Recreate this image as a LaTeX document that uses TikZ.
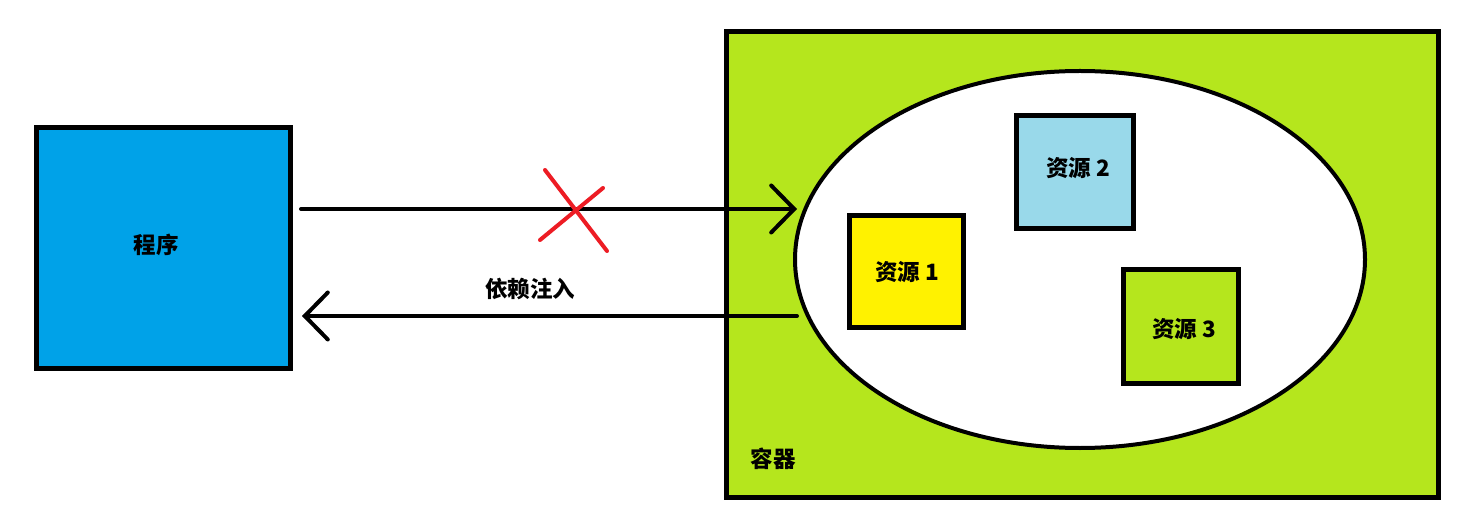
\documentclass[tikz,border=0pt]{standalone}
\usepackage{fontspec}
\setmainfont{Noto Sans CJK SC}
\usetikzlibrary{shapes.geometric,arrows.meta}
\definecolor{progblue}{HTML}{00A2E8}
\definecolor{contgreen}{HTML}{B5E61D}
\definecolor{resyellow}{HTML}{FFF200}
\definecolor{reslblue}{HTML}{99D9EA}
\definecolor{crossred}{HTML}{ED1C24}
\tikzset{
  box/.style={draw=black, line width=5pt, inner sep=0pt},
  lbl/.style={font=\bfseries\fontsize{22.5}{26}\selectfont, inner sep=0pt},
  conn/.style={line width=4pt, line cap=round, -{Straight Barb[length=23pt,width=47pt,line cap=round]}},
  crossline/.style={crossred, line width=4pt, line cap=round}
}
\begin{document}
\begin{tikzpicture}[x=1pt,y=-1pt]
\fill[white] (0,0) rectangle (1469,526);
\useasboundingbox (0,0) rectangle (1469,526);
% program
\node[box, fill=progblue, minimum width=254pt, minimum height=240pt] (prog) at (163,248) {};
\node[lbl] (progt) at (156,245) {程序};
% container
\node[box, fill=contgreen, minimum width=712pt, minimum height=465pt] (cont) at (1082,264.5) {};
\node[lbl] (contt) at (773,459) {容器};
% ellipse
\node[draw=black, line width=4pt, fill=white, ellipse, minimum width=570pt, minimum height=377pt, inner sep=0pt] (ell) at (1080,259.5) {};
% resources
\node[box, fill=resyellow, minimum width=114pt, minimum height=112pt] (r1) at (906,272) {};
\node[lbl] (r1t) at (907,272) {资源 1};
\node[box, fill=reslblue, minimum width=117pt, minimum height=113pt] (r2) at (1074.5,172.5) {};
\node[lbl] (r2t) at (1078,168) {资源 2};
\node[box, fill=contgreen, minimum width=115pt, minimum height=113pt] (r3) at (1180.5,326.5) {};
\node[lbl] (r3t) at (1184,329) {资源 3};
% connectors
\coordinate (a1s) at (301,209);
\coordinate (a1e) at (797,209);
\coordinate (a2s) at (797,316);
\coordinate (a2e) at (302,316);
\draw[conn] (a1s) -- (a1e);
\draw[conn] (a2s) -- (a2e);
\node[lbl] (dit) at (530,289) {依赖注入};
% red cross
\coordinate (c1) at (545,170);
\coordinate (c2) at (607,251);
\coordinate (c3) at (603,188);
\coordinate (c4) at (540,240);
\draw[crossline] (c1) -- (c2);
\draw[crossline] (c3) -- (c4);
\end{tikzpicture}
\end{document}
